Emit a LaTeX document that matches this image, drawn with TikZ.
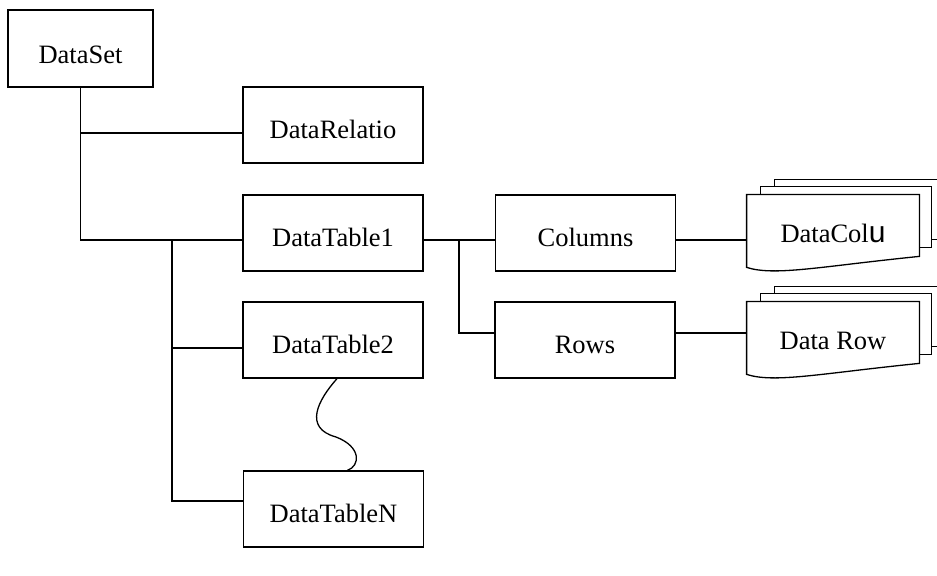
\documentclass[tikz,border=0pt]{standalone}
\usepackage{fontspec}
\setmainfont{Liberation Serif}
\newfontfamily\ufont{Liberation Sans}
\usetikzlibrary{calc}

\begin{document}
\begin{tikzpicture}[
    x=0.5pt, y=-0.5pt,
    thinline/.style={draw, line width=0.65pt},
    box/.style={thinline, rectangle, inner sep=0pt, minimum width=90pt, text height=26pt, text depth=12pt, font=\fontsize{13.25}{15}\selectfont},
    topbox/.style={box, minimum width=72.5pt, text height=27pt, text depth=11.5pt},
    docbox/.style={rectangle, inner sep=0pt, minimum width=86pt, text height=24pt, text depth=12pt, font=\fontsize{13.25}{15}\selectfont},
    conn/.style={thinline}
  ]

  \useasboundingbox (0,0) rectangle (937,576);
  \fill[white] (0,0) rectangle (937,576);
  \clip (0,0) rectangle (937,576);

  \coordinate (dsp)   at (80.5, 48.5);
  \coordinate (relp)  at (333, 125);
  \coordinate (dt1p)  at (333, 233);
  \coordinate (dt2p)  at (333, 340);
  \coordinate (dtnp)  at (333.5, 509);

  \coordinate (colsp) at (585.5, 233);
  \coordinate (rowsp) at (585, 340);

  \coordinate (dcolp) at (833, 231);
  \coordinate (drowp) at (833, 338);

  % DataSet and its members
  \node[topbox] (ds) at (dsp) {DataSet};
  \node[box] (rel) at (relp) {DataRelatio};
  \node[box] (dt1) at (dt1p) {DataTable1};
  \node[box] (dt2) at (dt2p) {DataTable2};
  \node[box] (dtn) at (dtnp) {DataTableN};

  % Collections of DataTable1
  \node[box] (cols) at (colsp) {Columns};
  \node[box] (rows) at (rowsp) {Rows};

  % Stacked documents
  \node[docbox] (dcol) at (dcolp) {DataCol{\ufont\fontsize{15}{15}\selectfont u}};
  \node[docbox] (drow) at (drowp) {Data Row};

  \foreach \d in {dcol,drow} {
    \draw[thinline] (\d.south west) .. controls ($(\d.south west)+(28,9)$) and ($(\d.south east)+(-99,-1)$) .. ($(\d.south east)+(0,-11)$)
      -- (\d.north east) -- (\d.north west) -- cycle;
    \draw[thinline] ($(\d.north west)+(14,0)$) -- ++(0,-8) -- ($(\d.north east)+(12,-8)$)
      -- ($(\d.north east)+(12,53)$) -- ($(\d.north east)+(0,53)$);
    \draw[thinline] ($(\d.north west)+(28,-8)$) -- ++(0,-7) -- ($(\d.north east)+(24,-15)$)
      -- ($(\d.north east)+(24,45)$) -- ($(\d.north east)+(12,45)$);
  }

  % Connection points
  \coordinate (relin) at ([yshift=-4pt]rel.west);
  \coordinate (dt1in) at ([yshift=-3.5pt]dt1.west);
  \coordinate (dt2in) at ([yshift=-4pt]dt2.west);
  \coordinate (dtnin) at ([yshift=4pt]dtn.west);
  \coordinate (dt1out) at ([yshift=-3.5pt]dt1.east);
  \coordinate (colsin) at ([yshift=-3.5pt]cols.west);
  \coordinate (rowsin) at ([yshift=3.5pt]rows.west);
  \coordinate (colsout) at ([yshift=-3.5pt]cols.east);
  \coordinate (rowsout) at ([yshift=3.5pt]rows.east);
  \coordinate (j1) at (172, 240);
  \coordinate (j2) at (459, 240);

  % Tree lines
  \draw[conn] (ds.south) |- (dt1in);
  \draw[conn] (relin -| ds.south) -- (relin);
  \draw[conn] (j1) |- (dtnin);
  \draw[conn] (j1 |- dt2in) -- (dt2in);

  \draw[conn] (dt1out) -- (colsin);
  \draw[conn] (j2) |- (rowsin);
  \draw[conn] (colsout) -- (colsout -| dcol.west);
  \draw[conn] (rowsout) -- (rowsout -| drow.west);

  % Break between DataTable2 and DataTableN
  \draw[conn] ([xshift=2pt]dt2.south) .. controls (318,400) and (303,428) .. (336,437)
    .. controls (362,447) and (360,466) .. ([xshift=7pt]dtn.north);

\end{tikzpicture}
\end{document}
